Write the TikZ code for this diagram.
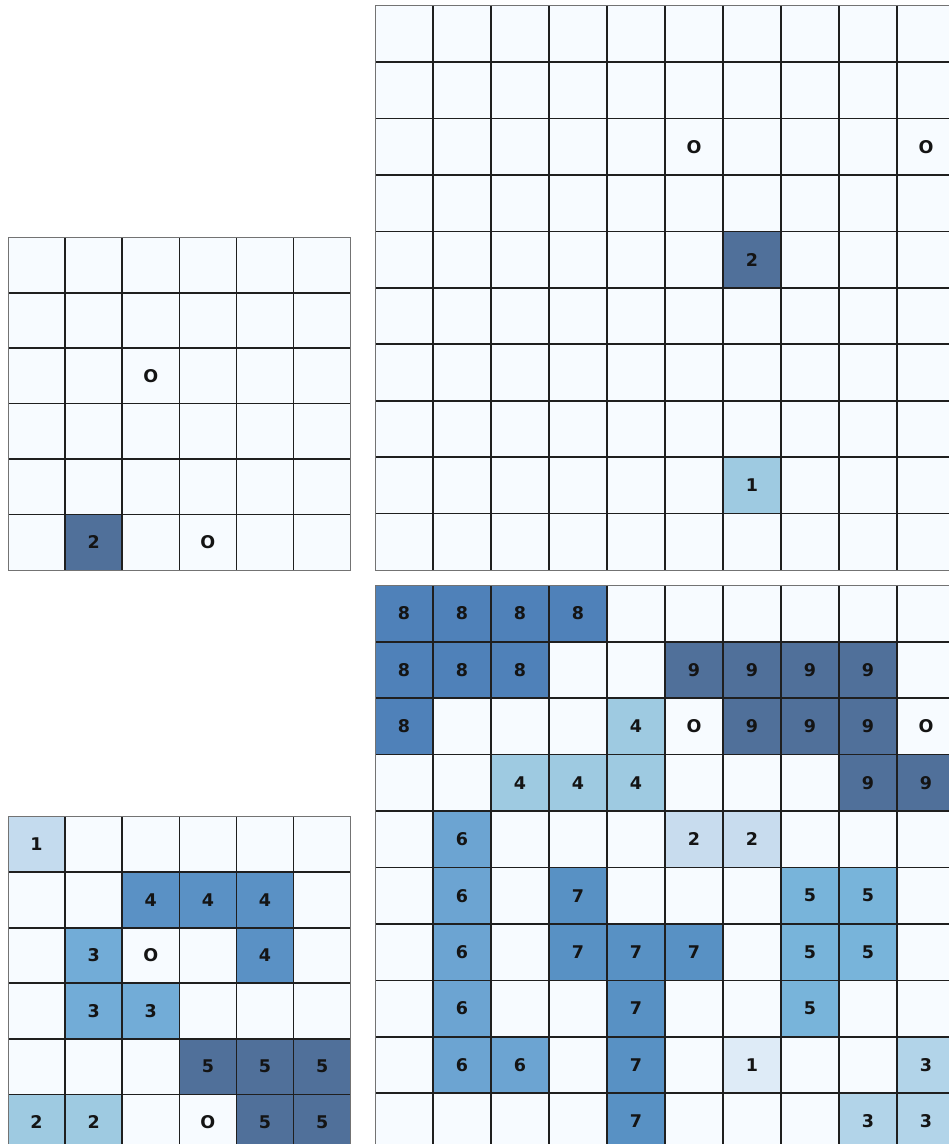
\documentclass[tikz,border=0pt]{standalone}
\usepackage{fontspec}
\setmainfont{DejaVu Sans}
\definecolor{bgc}{HTML}{F7FBFF}
\definecolor{cdark}{HTML}{50709A}
\definecolor{ceight}{HTML}{4F81B9}
\definecolor{cseven}{HTML}{5891C4}
\definecolor{cmid}{HTML}{5A91C5}
\definecolor{csix}{HTML}{6CA4D2}
\definecolor{cblthree}{HTML}{72ACD7}
\definecolor{cfive}{HTML}{78B4DA}
\definecolor{clight}{HTML}{9ECAE1}
\definecolor{cthree}{HTML}{B2D4E9}
\definecolor{ctwo}{HTML}{C8DCEE}
\definecolor{cblone}{HTML}{C4DBEE}
\definecolor{cone}{HTML}{DEEBF7}
\tikzset{
  lbl/.style={font=\fontsize{17.5}{20}\selectfont\bfseries, text=black!92, inner sep=0pt},
  gridline/.style={line width=1.6pt, draw=black!88},
  border/.style={line width=1pt, draw=black!55},
  gridTL/.style={xshift=8pt, yshift=-237.3pt, x=57.12pt, y=-55.45pt},
  gridTR/.style={xshift=375pt, yshift=-5.7pt, x=58pt, y=-56.43pt},
  gridBL/.style={xshift=8pt, yshift=-816.7pt, x=57.12pt, y=-55.52pt},
  gridBR/.style={xshift=375pt, yshift=-585.3pt, x=58pt, y=-56.44pt},
}
\newcommand\mygridlines[1]{%
  \pgfmathtruncatemacro\nm{#1-1}%
  \foreach \i in {1,...,\nm} {
    \draw[gridline] (\i,0) -- (\i,#1);
    \draw[gridline] (0,\i) -- (#1,\i);
  }
  \draw[border] (0,0) rectangle (#1,#1);
}
\begin{document}
\begin{tikzpicture}[x=1pt,y=-1pt]
\useasboundingbox (0,0) rectangle (949,1144);
\clip (0,0) rectangle (949,1144);
\fill[white] (0,0) rectangle (949,1144);

% top-left grid
\begin{scope}[gridTL]
  \fill[bgc] (0,0) rectangle (6,6);
  \foreach \c/\r/\col in {2/2/bgc, 1/5/cdark, 3/5/bgc} {
    \fill[fill=\col] (\c,\r) rectangle ++(1,1);
  }
  \mygridlines{6}
  \foreach \c/\r/\t in {2/2/O, 1/5/2, 3/5/O} {
    \node[lbl] (tl-\c-\r) at (\c+0.5,\r+0.5) {\t};
  }
\end{scope}

% top-right grid
\begin{scope}[gridTR]
  \fill[bgc] (0,0) rectangle (10,10);
  \foreach \c/\r/\col in {5/2/bgc, 9/2/bgc, 6/4/cdark, 6/8/clight} {
    \fill[fill=\col] (\c,\r) rectangle ++(1,1);
  }
  \mygridlines{10}
  \foreach \c/\r/\t in {5/2/O, 9/2/O, 6/4/2, 6/8/1} {
    \node[lbl] (tr-\c-\r) at (\c+0.5,\r+0.5) {\t};
  }
\end{scope}

% bottom-left grid
\begin{scope}[gridBL]
  \fill[bgc] (0,0) rectangle (6,6);
  \foreach \c/\r/\col in {0/0/cblone, 2/1/cmid, 3/1/cmid, 4/1/cmid,
      1/2/cblthree, 2/2/bgc, 4/2/cmid, 1/3/cblthree, 2/3/cblthree,
      3/4/cdark, 4/4/cdark, 5/4/cdark, 0/5/clight, 1/5/clight,
      3/5/bgc, 4/5/cdark, 5/5/cdark} {
    \fill[fill=\col] (\c,\r) rectangle ++(1,1);
  }
  \mygridlines{6}
  \foreach \c/\r/\t in {0/0/1, 2/1/4, 3/1/4, 4/1/4, 1/2/3, 2/2/O, 4/2/4, 1/3/3, 2/3/3,
      3/4/5, 4/4/5, 5/4/5, 0/5/2, 1/5/2, 3/5/O, 4/5/5, 5/5/5} {
    \node[lbl] (bl-\c-\r) at (\c+0.5,\r+0.5) {\t};
  }
\end{scope}

% bottom-right grid
\begin{scope}[gridBR]
  \fill[bgc] (0,0) rectangle (10,10);
  \foreach \c/\r/\col in {0/0/ceight, 1/0/ceight, 2/0/ceight, 3/0/ceight,
      0/1/ceight, 1/1/ceight, 2/1/ceight, 5/1/cdark, 6/1/cdark, 7/1/cdark, 8/1/cdark,
      0/2/ceight, 4/2/clight, 6/2/cdark, 7/2/cdark, 8/2/cdark,
      2/3/clight, 3/3/clight, 4/3/clight, 8/3/cdark, 9/3/cdark,
      1/4/csix, 5/4/ctwo, 6/4/ctwo,
      1/5/csix, 3/5/cseven, 7/5/cfive, 8/5/cfive,
      1/6/csix, 3/6/cseven, 4/6/cseven, 5/6/cseven, 7/6/cfive, 8/6/cfive,
      1/7/csix, 4/7/cseven, 7/7/cfive,
      1/8/csix, 2/8/csix, 4/8/cseven, 6/8/cone, 9/8/cthree,
      4/9/cseven, 8/9/cthree, 9/9/cthree} {
    \fill[fill=\col] (\c,\r) rectangle ++(1,1);
  }
  \mygridlines{10}
  \foreach \c/\r/\t in {0/0/8, 1/0/8, 2/0/8, 3/0/8,
      0/1/8, 1/1/8, 2/1/8, 5/1/9, 6/1/9, 7/1/9, 8/1/9,
      0/2/8, 4/2/4, 5/2/O, 6/2/9, 7/2/9, 8/2/9, 9/2/O,
      2/3/4, 3/3/4, 4/3/4, 8/3/9, 9/3/9,
      1/4/6, 5/4/2, 6/4/2,
      1/5/6, 3/5/7, 7/5/5, 8/5/5,
      1/6/6, 3/6/7, 4/6/7, 5/6/7, 7/6/5, 8/6/5,
      1/7/6, 4/7/7, 7/7/5,
      1/8/6, 2/8/6, 4/8/7, 6/8/1, 9/8/3,
      4/9/7, 8/9/3, 9/9/3} {
    \node[lbl] (br-\c-\r) at (\c+0.5,\r+0.5) {\t};
  }
\end{scope}
\end{tikzpicture}
\end{document}
